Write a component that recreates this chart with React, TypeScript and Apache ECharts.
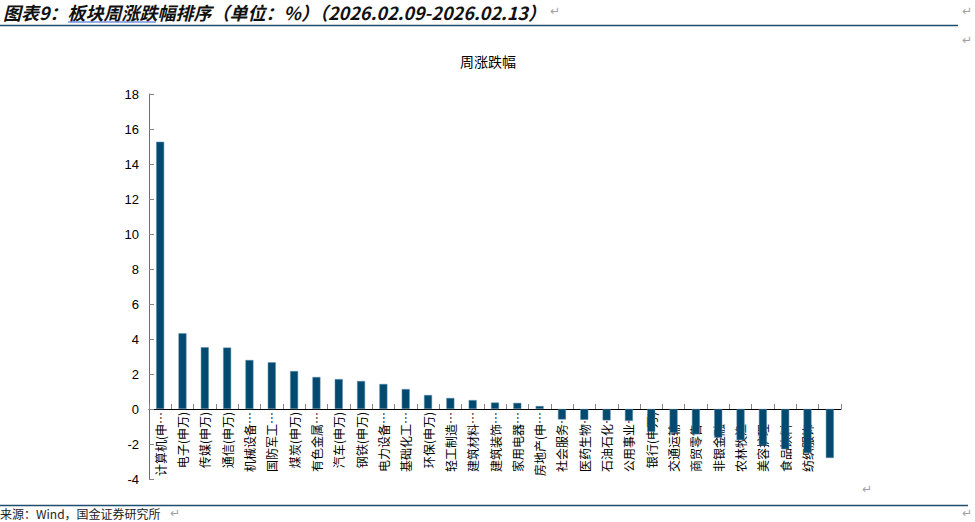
import React, { useEffect, useRef } from "react";
import * as echarts from "echarts";

const categories = [
  "计算机(申万)", "电子(申万)", "传媒(申万)", "通信(申万)", "机械设备(申万)", "国防军工(申万)",
  "煤炭(申万)", "有色金属(申万)", "汽车(申万)", "钢铁(申万)", "电力设备(申万)", "基础化工(申万)",
  "环保(申万)", "轻工制造(申万)", "建筑材料(申万)", "建筑装饰(申万)", "家用电器(申万)", "房地产(申万)",
  "社会服务(申万)", "医药生物(申万)", "石油石化(申万)", "公用事业(申万)", "银行(申万)", "交通运输(申万)",
  "商贸零售(申万)", "非银金融(申万)", "农林牧渔(申万)", "美容护理(申万)", "食品饮料(申万)", "纺织服饰(申万)",
  "综合(申万)",
];

const weeklyChange = [
  15.27, 4.33, 3.53, 3.51, 2.8, 2.67, 2.17, 1.83, 1.71, 1.6, 1.43, 1.14, 0.8, 0.63, 0.51, 0.37, 0.35,
  0.17, -0.6, -0.62, -0.65, -0.68, -1.3, -1.36, -1.45, -1.64, -1.78, -2.08, -2.3, -2.52, -2.8,
];

const yMin = -4;
const yMax = 18;
const yStep = 2;

const headerText = "图表9：板块周涨跌幅排序（单位：%）（2026.02.09-2026.02.13）";
const chartTitle = "周涨跌幅";
const sourceText = "来源：Wind，国金证券研究所";

function shortLabel(s: string): string {
  if (s.length <= 6) return s;
  return s.slice(0, 5).replace(/\($/, "") + "…";
}

export default function App() {
  const ref = useRef<HTMLDivElement>(null);
  useEffect(() => {
    if (!ref.current) return;
    const chart = echarts.init(ref.current, undefined, { renderer: "svg" });
    const cjk = "'Noto Sans CJK SC', sans-serif";
    const gridTop = 94;
    const gridBottom = 43;
    const plotH = 522 - gridTop - gridBottom;
    // distance between the zero line and the bottom of the plot
    const zeroOffset = (plotH * (0 - yMin)) / (yMax - yMin);
    const mark = (x: number, y: number) => ({
      type: "text",
      left: x,
      top: y,
      style: { text: "↵", fill: "#a0a0a0", font: "12px 'DejaVu Sans'" },
      silent: true,
    });
    chart.setOption({
      animation: false,
      backgroundColor: "#ffffff",
      title: {
        text: chartTitle,
        left: 483,
        top: 49,
        textAlign: "center",
        textStyle: { fontFamily: cjk, fontSize: 14, fontWeight: "normal", color: "#000" },
      },
      grid: {
        left: 149,
        right: 134,
        top: gridTop,
        bottom: gridBottom,
        containLabel: false,
        outerBoundsMode: "none",
      },
      xAxis: {
        type: "category",
        data: categories,
        position: "bottom",
        offset: -zeroOffset,
        axisLine: { onZero: false, lineStyle: { color: "#000", width: 1 } },
        axisTick: { show: true, inside: true, length: 5, lineStyle: { color: "#868686" } },
        axisLabel: {
          interval: 0,
          rotate: 90,
          margin: 3,
          fontSize: 12,
          fontFamily: cjk,
          color: "#000",
          formatter: (v: string, i: number) => (i === categories.length - 1 ? "" : shortLabel(v)),
        },
        splitLine: { show: false },
      },
      yAxis: {
        type: "value",
        min: yMin,
        max: yMax,
        interval: yStep,
        axisLine: { show: true, lineStyle: { color: "#6e6e6e" } },
        axisTick: { show: true, inside: true, length: 5, lineStyle: { color: "#868686" } },
        axisLabel: { fontSize: 13, fontFamily: "'Liberation Sans', Arial", color: "#000", margin: 10 },
        splitLine: { show: false },
      },
      series: [
        {
          type: "bar",
          data: weeklyChange,
          barWidth: 8,
          itemStyle: { color: "#034a71", borderColor: "#5f8fab", borderWidth: 0.5 },
        },
      ],
      graphic: [
        {
          type: "text",
          left: 3,
          top: 3,
          style: {
            text: headerText,
            fill: "#111",
            font: "italic bold 18px 'Noto Sans CJK SC'",
          },
          silent: true,
        },
        {
          type: "line",
          shape: { x1: 68, y1: 22, x2: 156, y2: 22 },
          style: { stroke: "#2f5fd0", lineWidth: 1 },
          silent: true,
        },
        {
          type: "line",
          shape: { x1: 0, y1: 25.5, x2: 958, y2: 25.5 },
          style: { stroke: "#1f4e6e", lineWidth: 1.5 },
          silent: true,
        },
        {
          type: "line",
          shape: { x1: 0, y1: 505.5, x2: 968, y2: 505.5 },
          style: { stroke: "#1f4e6e", lineWidth: 1.5 },
          silent: true,
        },
        {
          type: "text",
          left: 0,
          top: 507,
          style: { text: sourceText, fill: "#222", font: "12px 'Noto Sans CJK SC'" },
          silent: true,
        },
        mark(550, 5),
        mark(962, 5),
        mark(962, 34),
        mark(862, 483),
        mark(962, 507),
        mark(170, 507),
      ],
    });
    return () => chart.dispose();
  }, []);
  return (
    <div
      ref={ref}
      style={{ position: "absolute", left: 0, top: 0, width: 975, height: 522, background: "#fff" }}
    />
  );
}
